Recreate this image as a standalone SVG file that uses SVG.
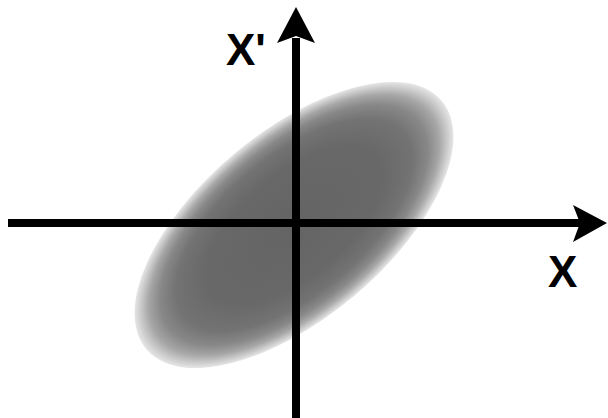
<svg xmlns="http://www.w3.org/2000/svg" width="608" height="418" viewBox="0 0 608 418">
  <style>
    .axis { stroke: #000; stroke-width: 8; fill: none; }
    .head { fill: #000; }
    .lbl { font-family: "Liberation Sans", Arial, sans-serif; font-size: 44px; font-weight: bold; fill: #000; }
  </style>
  <defs>
    <radialGradient id="blob" cx="0.5" cy="0.5" r="0.5">
      <stop offset="0" stop-color="#646464"/>
      <stop offset="0.55" stop-color="#686868"/>
      <stop offset="0.74" stop-color="#737373"/>
      <stop offset="0.84" stop-color="#888888"/>
      <stop offset="0.91" stop-color="#a6a6a6"/>
      <stop offset="0.955" stop-color="#c6c6c6"/>
      <stop offset="1" stop-color="#e6e6e6"/>
    </radialGradient>
  </defs>
  <rect width="608" height="418" fill="#fff"/>
  <g id="distribution">
    <ellipse cx="294" cy="225" rx="193" ry="93" transform="rotate(-40 294 225)" fill="url(#blob)"/>
  </g>
  <g id="connectors">
    <line class="axis" x1="8" y1="223" x2="582" y2="223"/>
    <polygon class="head" points="607,223 573,205 580,223 573,242"/>
    <line class="axis" x1="296" y1="418" x2="296" y2="38"/>
    <polygon class="head" points="296,7 277,43 296,36 315,43"/>
  </g>
  <g id="label-xprime">
    <text class="lbl" x="226" y="65">X'</text>
  </g>
  <g id="label-x">
    <text class="lbl" x="548" y="287">X</text>
  </g>
</svg>
